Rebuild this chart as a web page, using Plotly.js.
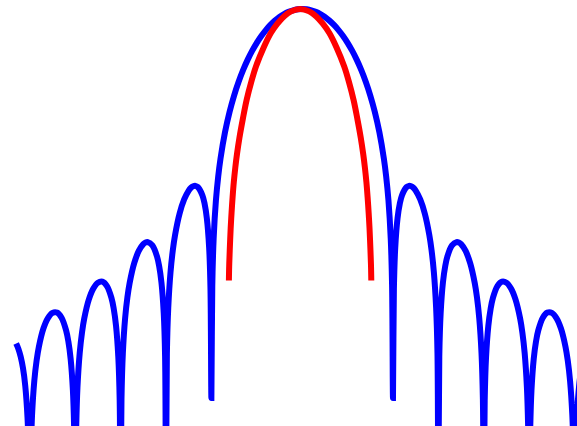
<!DOCTYPE html>
<html>
<head>
<meta charset="utf-8">
<script src="https://cdn.plot.ly/plotly-3.0.1.min.js"></script>
<style>
  html, body { margin: 0; padding: 0; background: #ffffff; }
  #chart { width: 577px; height: 426px; }
</style>
</head>
<body>
<div id="chart"></div>
<script>
// Window spectrum (normalised frequency in bins) and its level in dB
const blueFreq = [
  -6.3, -6.25, -6.2, -6.15, -6.1, -6.05, -6.02, -6, -5.98, -5.95, -5.9, -5.85, -5.8, -5.7, -5.6, -5.5, -5.4, -5.3, -5.2, -5.15, -5.1, -5.05, -5.02,
  -5, -4.98, -4.95, -4.9, -4.85, -4.8, -4.7, -4.6, -4.5, -4.4, -4.3, -4.2, -4.15, -4.1, -4.05, -4.02,
  -4, -3.98, -3.95, -3.9, -3.85, -3.8, -3.7, -3.6, -3.5, -3.45, -3.4, -3.3, -3.2, -3.15, -3.1, -3.05, -3.02,
  -3, -2.98, -2.95, -2.9, -2.85, -2.8, -2.7, -2.6, -2.5, -2.45, -2.4, -2.35, -2.3, -2.2, -2.15, -2.1, -2.05, -2.02,
  -2, -1.98, -1.95, -1.9, -1.85, -1.8, -1.7, -1.6, -1.5, -1.4, -1.3, -1.2, -1.1, -1, -0.9, -0.8, -0.7, -0.6, -0.5, -0.4, -0.3, -0.2, -0.1,
  0,
  0.1, 0.2, 0.3, 0.4, 0.5, 0.6, 0.7, 0.8, 0.9, 1, 1.1, 1.2, 1.3, 1.4, 1.5, 1.6, 1.7, 1.8, 1.85, 1.9, 1.95, 1.98, 2,
  2.02, 2.05, 2.1, 2.15, 2.2, 2.3, 2.35, 2.4, 2.45, 2.5, 2.6, 2.7, 2.8, 2.85, 2.9, 2.95, 2.98, 3,
  3.02, 3.05, 3.1, 3.15, 3.2, 3.3, 3.4, 3.45, 3.5, 3.6, 3.7, 3.8, 3.85, 3.9, 3.95, 3.98, 4,
  4.02, 4.05, 4.1, 4.15, 4.2, 4.3, 4.4, 4.5, 4.6, 4.7, 4.8, 4.85, 4.9, 4.95, 4.98, 5,
  5.02, 5.05, 5.1, 5.15, 5.2, 5.3, 5.4, 5.5, 5.6, 5.7, 5.8, 5.85, 5.9, 5.95, 5.98, 6,
  6.02, 6.05, 6.1, 6.15, 6.2, 6.25, 6.3
];
const blueLevel = [
  -59.52, -60.48, -61.88, -63.90, -67.03, -72.72, -80.52, -90, -80.34, -72.28, -66.14, -62.58, -60.11, -56.86, -54.99, -54.07, -54.02, -54.93, -57.19, -59.18, -62.26, -67.90, -75.67,
  -90, -75.46, -67.37, -61.19, -57.57, -55.05, -51.71, -49.73, -48.70, -48.53, -49.31, -51.45, -53.37, -56.38, -61.95, -69.68,
  -90, -69.41, -61.27, -55.02, -51.32, -48.73, -45.22, -43.06, -41.85, -41.56, -41.49, -42.06, -43.98, -45.78, -48.67, -54.12, -61.78,
  -90, -61.40, -53.18, -46.79, -42.95, -40.21, -36.38, -33.89, -32.31, -31.82, -31.54, -31.47, -31.67, -33.10, -34.63, -37.24, -42.40, -49.86,
  -69.2, -49.23, -40.81, -34.05, -29.83, -26.67, -21.92, -18.32, -15.40, -12.95, -10.84, -9.01, -7.42, -6.02, -4.80, -3.75, -2.84, -2.07, -1.42, -0.91, -0.51, -0.23, -0.06,
  0,
  -0.06, -0.23, -0.51, -0.91, -1.42, -2.07, -2.84, -3.75, -4.80, -6.02, -7.42, -9.01, -10.84, -12.95, -15.40, -18.32, -21.92, -26.67, -29.83, -34.05, -40.81, -49.23, -69.2,
  -49.86, -42.40, -37.24, -34.63, -33.10, -31.67, -31.47, -31.54, -31.82, -32.31, -33.89, -36.38, -40.21, -42.95, -46.79, -53.18, -61.40, -90,
  -61.78, -54.12, -48.67, -45.78, -43.98, -42.06, -41.49, -41.56, -41.85, -43.06, -45.22, -48.73, -51.32, -55.02, -61.27, -69.41, -90,
  -69.68, -61.95, -56.38, -53.37, -51.45, -49.31, -48.53, -48.70, -49.73, -51.71, -55.05, -57.57, -61.19, -67.37, -75.46, -90,
  -75.67, -67.90, -62.26, -59.18, -57.19, -54.93, -54.02, -54.07, -54.99, -56.86, -60.11, -62.58, -66.14, -72.28, -80.34, -90,
  -80.52, -72.72, -67.03, -63.90, -61.88, -60.48, -59.52
];

// Gaussian-style approximation of the main lobe
const redFreq = [
  -1.614, -1.608, -1.596, -1.575, -1.556, -1.533, -1.506, -1.473, -1.436, -1.382, -1.306, -1.224, -1.126, -1.020, -0.846, -0.690, -0.546, -0.396, -0.246,
  -0.046,
  0.154, 0.304, 0.454, 0.598, 0.754, 0.928, 1.034, 1.132, 1.214, 1.290, 1.344, 1.381, 1.414, 1.441, 1.464, 1.483, 1.504, 1.516, 1.522
];
const redLevel = [
  -48.3, -45.8, -43.0, -39.0, -36.3, -33.5, -30.8, -28.2, -25.8, -22.9, -19.5, -16.19, -13.1, -10.27, -6.8, -4.27, -2.6, -1.27, -0.42,
  0,
  -0.42, -1.27, -2.6, -4.27, -6.8, -10.27, -13.1, -16.19, -19.5, -22.9, -25.8, -28.2, -30.8, -33.5, -36.3, -39.0, -43.0, -45.8, -48.3
];

const traces = [
  {
    x: blueFreq, y: blueLevel, type: 'scatter', mode: 'lines',
    line: { color: '#0000ff', width: 6, shape: 'spline', smoothing: 1 },
    hoverinfo: 'skip'
  },
  {
    x: redFreq, y: redLevel, type: 'scatter', mode: 'lines',
    line: { color: '#ff0000', width: 6, shape: 'spline', smoothing: 1 },
    hoverinfo: 'skip'
  }
];

const hiddenAxis = {
  visible: false, showgrid: false, zeroline: false, showticklabels: false
};

const layout = {
  width: 577, height: 426,
  margin: { l: 0, r: 0, t: 0, b: 0, pad: 0 },
  paper_bgcolor: '#ffffff', plot_bgcolor: '#ffffff',
  showlegend: false,
  xaxis: Object.assign({ range: [-6.656, 6.053] }, hiddenAxis),
  yaxis: Object.assign({ range: [-74.2, 1.6] }, hiddenAxis)
};

Plotly.newPlot('chart', traces, layout, { staticPlot: true, displayModeBar: false });
</script>
</body>
</html>
